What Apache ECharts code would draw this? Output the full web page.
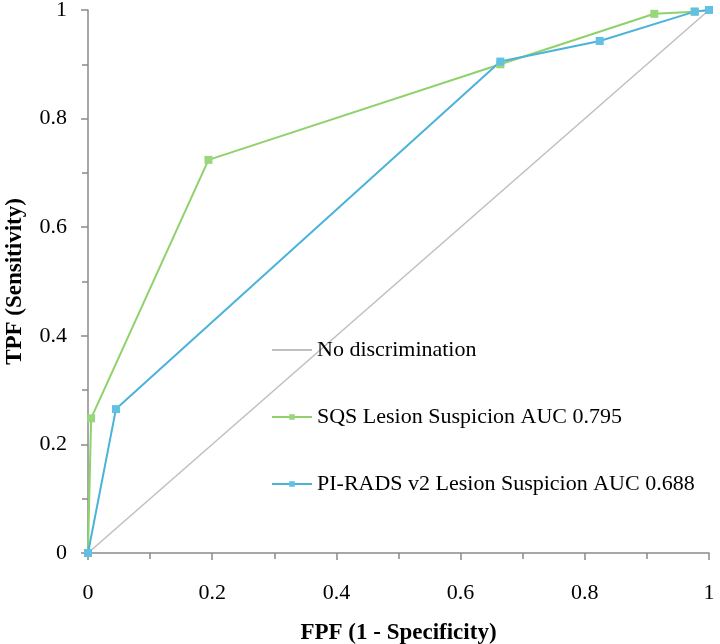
<!DOCTYPE html>
<html><head><meta charset="utf-8">
<script src="https://cdn.jsdelivr.net/npm/echarts@6/dist/echarts.min.js"></script>
<style>html,body{margin:0;padding:0;background:#fff}#c{width:720px;height:644px}</style>
</head><body><div id="c"></div>
<script>
const seriesNames = ['No discrimination', 'SQS Lesion Suspicion AUC 0.795', 'PI-RADS v2 Lesion Suspicion AUC 0.688'];
const diagX = [0, 1];
const diagY = [0, 1];
const sqsX = [0, 0.005, 0.194, 0.664, 0.912, 0.977, 1];
const sqsY = [0, 0.248, 0.724, 0.90, 0.993, 0.997, 1];
const piX = [0, 0.045, 0.664, 0.824, 0.977, 1];
const piY = [0, 0.265, 0.905, 0.943, 0.997, 1];
const zip = (a, b) => a.map((v, i) => [v, b[i]]);
const FONT = 'Liberation Serif';
const axisCommon = {
  type: 'value', min: 0, max: 1, interval: 0.2,
  axisLine: {show: true, lineStyle: {color: '#8a8a8a', width: 1.5}},
  axisTick: {show: true, length: 7, lineStyle: {color: '#8a8a8a', width: 1.5}},
  minorTick: {show: true, splitNumber: 2, length: 6, lineStyle: {color: '#8a8a8a', width: 1.5}},
  splitLine: {show: false},
  axisLabel: {color: '#000', fontFamily: FONT, fontSize: 22},
  nameLocation: 'middle',
  nameTextStyle: {color: '#000', fontFamily: FONT, fontSize: 23, fontWeight: 'bold'}
};
const chart = echarts.init(document.getElementById('c'), null, {renderer: 'canvas'});
chart.setOption({
  animation: false,
  backgroundColor: '#fff',
  grid: {left: 88, right: 11, top: 10, bottom: 91, containLabel: false, outerBoundsMode: 'none'},
  xAxis: Object.assign({}, axisCommon, {name: 'FPF (1 - Specificity)', nameGap: 69,
    axisLabel: Object.assign({}, axisCommon.axisLabel, {margin: 29})}),
  yAxis: Object.assign({}, axisCommon, {name: 'TPF (Sensitivity)', nameGap: 61,
    axisLabel: Object.assign({}, axisCommon.axisLabel, {margin: 21})}),
  legend: {
    orient: 'vertical', left: 266, top: 334, itemWidth: 40, itemHeight: 7, itemGap: 45,
    textStyle: {color: '#000', fontFamily: FONT, fontSize: 22, padding: [0,0,0,0]},
    data: [
      {name: seriesNames[0], itemStyle: {opacity: 0}},
      {name: seriesNames[1]},
      {name: seriesNames[2]}
    ]
  },
  series: [
    {name: seriesNames[0], type: 'line', data: zip(diagX, diagY), symbol: 'none',
     lineStyle: {color: '#bfbfbf', width: 1.5}, itemStyle: {color: '#bfbfbf'}},
    {name: seriesNames[1], type: 'line', data: zip(sqsX, sqsY), symbol: 'rect', symbolSize: 8,
     lineStyle: {color: '#8fd16a', width: 2}, itemStyle: {color: '#9ad67c'}},
    {name: seriesNames[2], type: 'line', data: zip(piX, piY), symbol: 'rect', symbolSize: 8,
     lineStyle: {color: '#4bb3da', width: 2}, itemStyle: {color: '#62c0e2'}}
  ]
});
</script></body></html>
